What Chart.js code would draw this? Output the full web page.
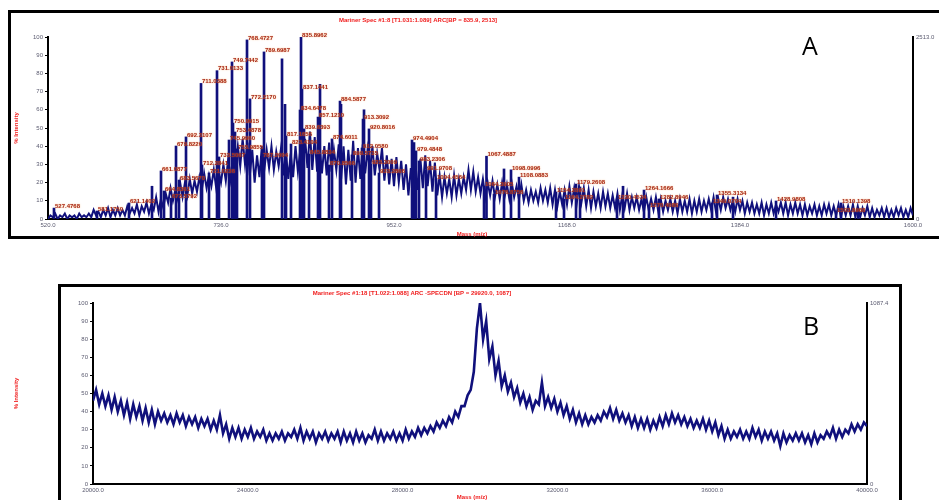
<!DOCTYPE html>
<html>
<head>
<meta charset="utf-8">
<title>MALDI spectra</title>
<script src="https://cdn.jsdelivr.net/npm/chart.js@4.4.1/dist/chart.umd.min.js"></script>
<style>
  body { margin: 0; width: 939px; height: 500px; overflow: hidden; position: relative; background: #fff; }
  .frame { position: absolute; border: 3px solid #000; box-sizing: border-box; }
  #frameA { left: 8px; top: 10px; width: 960px; height: 229px; }
  #frameB { left: 58px; top: 284px; width: 844px; height: 240px; }
  canvas { position: absolute; left: 0; }
  #chartA { top: 0; }
  #chartB { top: 250px; }
</style>
</head>
<body>
<div class="frame" id="frameA"></div>
<div class="frame" id="frameB"></div>
<canvas id="chartA" width="939" height="250"></canvas>
<canvas id="chartB" width="939" height="250"></canvas>
<script>
const BLUE = '#10107c';

// Spectrum A: 6 Da bins from 520, min / max % intensity in each bin
const mzStartA = 520, mzStepA = 6;
const lowA = [0,1,0,1,0,1,0,1,1,1, 2,1,2,1,2,2,2,3,3,2, 4,3,5,4,6,9,10,11,12,13,
  14,15,16,17,18,17,20,21,22,28, 29,30,24,20,23,27,28,27,29,24, 22,23,26,25,28,27,26,25,24,26,
  27,22,19,21,20,22,25,26,24,27, 21,19,18,20,16,13,14,16,17,18, 15,13,12,14,12,13,14,16,16,15,
  14,12,13,12,11,12,11,12,11,10, 9,10,9,10,9,8,7,8,8,9, 8,9,7,6,7,6,7,6,6,5,
  6,5,6,5,4,5,5,4,4,5, 4,3,4,4,3,4,4,5,5,4, 5,6,5,4,5,3,4,3,3,2,
  3,3,4,3,2,3,3,2,2,3, 2,2,3,2,2,1,2,2,1,1, 2,1,1,2,1,1,1,2,1,1, 2];
const highA = [2,3,2,3,2,2,3,2,3,5, 4,5,6,5,6,5,7,6,8,7, 9,8,12,11,14,17,16,20,20,22,
  21,23,25,24,27,26,30,33,34,40, 44,42,38,35,40,38,40,37,39,37, 36,40,38,44,48,45,42,40,42,38,
  41,40,38,43,39,41,38,40,36,39, 35,33,34,32,30,28,29,33,35,32, 31,24,23,22,24,22,23,27,26,23,
  22,20,21,19,20,19,20,18,19,16, 16,15,17,16,17,16,15,16,18,17, 18,17,16,15,14,15,14,13,14,13,
  14,12,12,11,12,11,12,11,10,11, 10,11,10,11,10,11,10,11,12,11, 12,11,10,11,10,9,9,8,9,8,
  9,8,9,9,8,9,8,8,7,8, 7,8,8,7,8,7,7,8,7,6, 7,6,5,6,6,5,6,6,5,6, 6];

// labelled peaks of spectrum A
const peakMzA = [527.4768, 581.1750, 621.1402, 661.0877, 664.8361, 673.5792, 679.8220, 683.5670,
  692.3107, 711.0388, 712.2841, 721.0236, 731.0133, 733.5067, 745.9960, 749.7442, 750.9915,
  753.4878, 755.9855, 768.4727, 772.2170, 787.2004, 789.6987, 817.1656, 823.4104, 834.6478,
  835.8962, 837.1441, 839.6393, 845.8834, 857.1210, 870.8566, 874.6011, 884.5877, 899.5735,
  912.0580, 913.3092, 920.8016, 923.3009, 933.2866, 974.4904, 979.4848, 983.2306, 991.9708,
  1004.4564, 1064.3905, 1067.4887, 1076.8756, 1098.0996, 1108.0883, 1154.2891, 1164.2782,
  1179.2608, 1230.4534, 1264.1666, 1270.4086, 1282.8946, 1349.0704, 1355.3134, 1428.9808,
  1503.8968, 1510.1398];
const peakIntA = [6.0, 4.4, 8.8, 26.4, 15.4, 11.5, 40.1, 21.4,
  45.1, 74.5, 29.7, 25.3, 81.5, 34.1, 43.4, 86.3, 52.7,
  47.8, 38.5, 98.4, 66.0, 34.0, 91.8, 45.6, 41.2, 59.9,
  100, 71.4, 49.5, 35.7, 56.0, 29.7, 44.0, 64.8, 35.2,
  39.0, 54.9, 49.5, 30.2, 25.3, 43.4, 37.4, 31.9, 26.9,
  22.0, 18.1, 34.5, 13.7, 27.0, 23.0, 14.8, 11.0,
  19.2, 11.0, 15.9, 6.6, 11.0, 8.8, 13.2, 9.9,
  3.8, 8.8];

// unlabelled spikes of spectrum A
const spikeMzA = [649.8531, 812.1724, 815.9177, 859.6192, 885.8398, 914.5577, 976.9877,
  1089.3518, 1184.2600, 1237.9450, 1375.2900, 1531.4000];
const spikeIntA = [18, 88, 63, 74, 63, 60, 42, 27.5, 17.6, 18, 12, 6];

const xTicksA = [520, 736, 952, 1168, 1384, 1600];

// Spectrum B: 160 Da bins from 20000
const mzStartB = 20000, mzStepB = 160;
const lowB = [46,44,43,41,40,38,36,37,35,34, 33,35,34,33,34,32,33,31,32,30,
  30,28,25,26,25,26,25,26,24,24, 25,24,26,25,24,25,23,25,24,25,
  23,24,23,24,23,25,24,24,25,24, 24,25,26,27,28,29,31,32,34,37,
  43,52,86,80,69,60,54,51,48,45, 43,41,44,43,42,40,38,36,34,33,
  33,34,35,37,36,35,34,32,31,31, 30,31,32,33,34,33,32,31,31,30,
  29,27,25,25,26,25,25,26,24,25, 24,21,23,24,24,23,22,23,25,26,
  25,26,28,29,30,32];
const highB = [52,50,49,48,46,45,44,43,42,41, 40,39,38,39,38,37,37,36,36,35,
  38,33,31,31,30,31,29,30,28,28, 29,28,30,31,29,29,28,29,28,29,
  29,28,29,28,27,30,29,28,29,28, 30,29,31,31,32,34,35,37,40,43,
  49,62,100,90,76,68,60,56,53,50, 48,46,56,48,47,45,43,41,39,38,
  37,38,40,42,41,39,38,37,36,36, 35,37,38,39,38,37,36,35,36,35,
  34,32,30,29,30,29,31,30,29,29, 28,28,27,28,28,27,28,27,29,31,
  30,30,33,33,34,36];
const xTicksB = [20000, 24000, 28000, 32000, 36000, 40000];

// zig-zag through each bin: low at the bin start, high half a bin later
function binTrace(start, step, lows, highs) {
  const pts = [];
  lows.forEach((lo, i) => {
    const mz = start + step * i;
    pts.push({x: mz, y: lo}, {x: mz + step / 2, y: highs[i]});
  });
  return pts;
}

function peakPoints(mzs, ints) {
  return mzs.map((mz, i) => ({x: mz, y: ints[i]}));
}

const annotate = {
  id: 'annotate',
  afterDraw(chart, args, o) {
    const ctx = chart.ctx;
    const area = chart.chartArea;
    ctx.save();
    // m/z labels next to the top of each labelled peak
    ctx.font = 'bold 6px "Liberation Sans", Arial, sans-serif';
    ctx.fillStyle = '#a82a1c';
    ctx.shadowColor = 'rgba(245,150,60,0.7)';
    ctx.shadowBlur = 1.5;
    ctx.textBaseline = 'middle';
    ctx.textAlign = 'left';
    chart.data.datasets.forEach((ds, d) => {
      if (!ds.peakLabels) return;
      chart.getDatasetMeta(d).data.forEach((bar, i) => {
        ctx.fillText(ds.peakLabels[i], bar.x + 1, bar.y - 2);
      });
    });
    ctx.shadowBlur = 0;
    ctx.fillStyle = '#f01c1c';
    ctx.textAlign = 'center';
    ctx.fillText(o.title, o.titleX, o.titleY);
    ctx.fillText('Mass (m/z)', o.massX, o.massY);
    ctx.save();
    ctx.translate(16, (area.top + area.bottom) / 2);
    ctx.rotate(-Math.PI / 2);
    ctx.fillText('% Intensity', 0, 0);
    ctx.restore();
    ctx.fillStyle = '#000';
    ctx.font = '25px "Open Sans", sans-serif';
    ctx.textAlign = 'left';
    ctx.textBaseline = 'alphabetic';
    ctx.fillText(o.letter, o.letterX, o.letterY);
    ctx.restore();
  }
};

function scales(xMin, xMax, xTicks, rightLabel, box) {
  const tickFont = {size: 6, family: '"Liberation Sans", Arial, sans-serif'};
  return {
    x: {
      type: 'linear', min: xMin, max: xMax, offset: false,
      afterBuildTicks: s => { s.ticks = xTicks.map(v => ({value: v})); },
      afterFit: s => { s.height = box.bottom; },
      ticks: {font: tickFont, color: '#5b5b70', padding: 3, maxRotation: 0, autoSkip: false,
        callback: v => v.toFixed(1)},
      grid: {drawOnChartArea: false, drawTicks: false},
      border: {color: '#000', width: 2}
    },
    y: {
      min: 0, max: 100,
      afterBuildTicks: s => {
        s.ticks = [];
        for (let v = 0; v <= 100; v += 5) s.ticks.push({value: v});
      },
      afterFit: s => { s.width = box.left; },
      ticks: {font: tickFont, color: '#5b5b70', padding: 2, callback: v => (v % 10 === 0 ? v : '')},
      grid: {drawOnChartArea: false, tickLength: 3, color: '#000'},
      border: {color: '#000', width: 2}
    },
    y2: {
      position: 'right', min: 0, max: 100,
      afterBuildTicks: s => { s.ticks = [{value: 0}, {value: 100}]; },
      afterFit: s => { s.width = box.right; },
      ticks: {font: tickFont, color: '#5b5b70', padding: 3, callback: v => (v === 100 ? rightLabel : '0')},
      grid: {drawOnChartArea: false, drawTicks: false},
      border: {color: '#000', width: 2}
    }
  };
}

function spectrumChart(id, datasets, xMin, xMax, xTicks, rightLabel, box, decor) {
  return new Chart(document.getElementById(id), {
    type: 'line',
    data: {datasets: datasets},
    options: {
      responsive: false,
      animation: false,
      devicePixelRatio: 1,
      layout: {padding: {top: box.top, bottom: 0, left: 0, right: 0}},
      plugins: {legend: {display: false}, tooltip: {enabled: false}, annotate: decor},
      scales: scales(xMin, xMax, xTicks, rightLabel, box)
    },
    plugins: [annotate]
  });
}

const barStyle = {type: 'bar', backgroundColor: BLUE, barThickness: 2, grouped: false};

spectrumChart('chartA', [
  {data: binTrace(mzStartA, mzStepA, lowA, highA), borderColor: BLUE, borderWidth: 2,
    pointRadius: 0, tension: 0},
  Object.assign({data: peakPoints(peakMzA, peakIntA),
    peakLabels: peakMzA.map(m => m.toFixed(4))}, barStyle),
  Object.assign({data: peakPoints(spikeMzA, spikeIntA)}, barStyle)
], 520, 1600, xTicksA, '2513.0',
  {top: 37, bottom: 31, left: 48, right: 26},
  {title: 'Mariner Spec #1:8 [T1.031:1.089] ARC[BP = 835.9, 2513]', titleX: 418, titleY: 20,
    massX: 472, massY: 234, letter: 'A', letterX: 802, letterY: 55});

spectrumChart('chartB', [
  {data: binTrace(mzStartB, mzStepB, lowB, highB), borderColor: BLUE, borderWidth: 2.6,
    pointRadius: 0, tension: 0}
], 20000, 40000, xTicksB, '1087.4',
  {top: 53, bottom: 16, left: 93, right: 72},
  {title: 'Mariner Spec #1:18 [T1.022:1.088] ARC -SPECDN [BP = 29920.0, 1087]', titleX: 412, titleY: 43,
    massX: 472, massY: 247, letter: 'B', letterX: 803, letterY: 85});
</script>
</body>
</html>
